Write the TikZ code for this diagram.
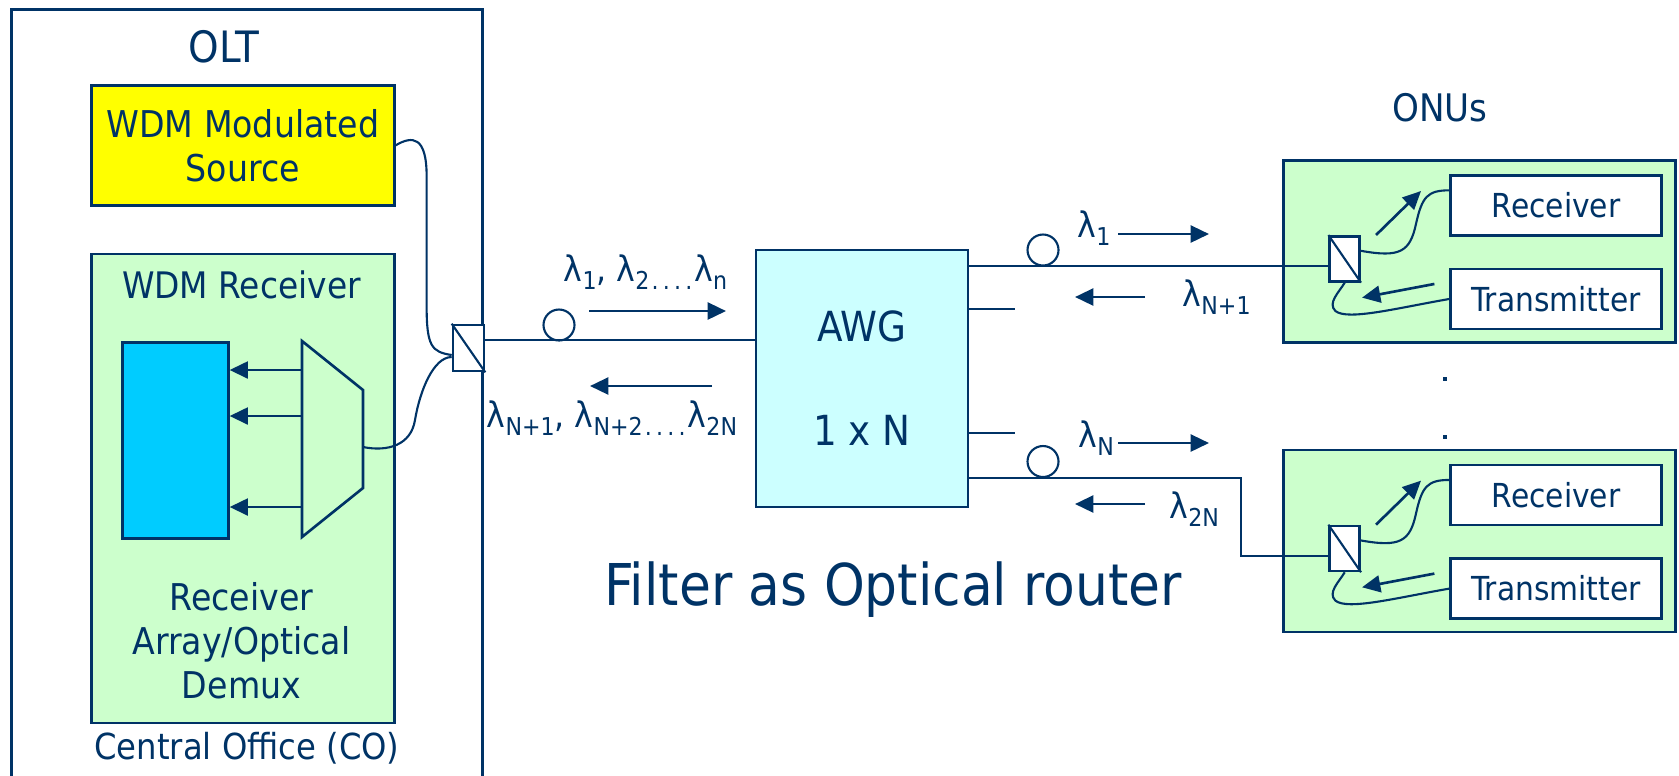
\documentclass[tikz,border=0pt]{standalone}
\usepackage{fontspec}
\setmainfont{DejaVu Sans Condensed}
\usepackage{tikz}
\usepackage{xcolor}
\usetikzlibrary{positioning}
\usetikzlibrary{calc}
\usetikzlibrary{arrows.meta}
\definecolor{ink}{RGB}{0, 51, 102}
\definecolor{mint}{RGB}{204, 255, 204}
\definecolor{ice}{RGB}{204, 255, 255}
\definecolor{sky}{RGB}{0, 204, 255}
\definecolor{lemon}{RGB}{255, 255, 0}
\tikzstyle{blk} = [
	draw=ink,
	line width=0.75pt,
	inner sep=0pt,
	text=ink,
	align=center
]
\tikzstyle{gblk} = [blk, fill=mint]
\tikzstyle{wblk} = [
	blk,
	fill=white,
	minimum width=2.11cm,
	minimum height=0.6cm,
	font=\fontsize{9.4}{11}\selectfont
]
\tikzstyle{fsplit} = [blk, fill=white, minimum width=0.3cm, minimum height=0.45cm]
\tikzstyle{fiber} = [draw=ink, line width=0.6pt]
\tikzstyle{coil} = [
	draw=ink,
	line width=0.6pt,
	circle,
	minimum size=0.31cm,
	inner sep=0pt
]
\tikzstyle{flow} = [draw=ink, line width=0.75pt, -{Triangle[length=5.2pt, width=4.8pt]}]
\tikzstyle{lbl} = [text=ink, inner sep=0pt]
\newcommand{\wl}[1]{λ\raisebox{-0.45ex}{\fontsize{7}{8}\selectfont #1}}
\newcommand{\wdots}{\raisebox{-0.45ex}{\fontsize{7}{8}\selectfont\kern0.6pt.\kern1.2pt.\kern1.2pt.\kern1.2pt.\kern0.6pt}}

\begin{document}
\begin{tikzpicture}[x=0.1mm, y=-0.1mm, node distance=0cm and 0cm]
	\useasboundingbox (0,0) rectangle (1679,775);
	\clip (0,0) rectangle (1679,775);
	
	%
	% Central office
	\node[blk, minimum width=4.71cm, minimum height=8cm, anchor=north west] (olt) at (10,8) {};
	\node[lbl, font=\fontsize{12.3}{14}\selectfont] (oltlbl) at (224,47) {OLT};
	\node[blk, fill=lemon, minimum width=3.03cm, minimum height=1.2cm, anchor=north west, font=\fontsize{10.5}{12.5}\selectfont] (src) at (90,84) {WDM Modulated\\Source};
	\node[gblk, minimum width=3.03cm, minimum height=4.69cm, below=0.46cm of src] (wrx) {};
	\node[lbl, font=\fontsize{10.4}{12}\selectfont] (wrxlbl) at (241.5,285) {WDM Receiver};
	\node[lbl, font=\fontsize{10.5}{12.5}\selectfont, align=center] (demuxlbl) at (241.5,641) {Receiver\\Array/Optical\\Demux};
	\node[lbl, font=\fontsize{10.2}{12}\selectfont] (colbl) at (247,748) {Central Office (CO)};
	\node[blk, fill=sky, minimum width=1.06cm, minimum height=1.96cm, anchor=north west] (arr) at (121,341) {};
	\draw[fiber, line width=0.75pt, fill=mint] (302,341) -- (363,390) -- (363,488) -- (302,537) -- cycle;
	\coordinate (dm1) at (302,370);
	\coordinate (dm2) at (302,416);
	\coordinate (dm3) at (302,507);
	\draw[flow] (dm1) -- (dm1 -| arr.east);
	\draw[flow] (dm2) -- (dm2 -| arr.east);
	\draw[flow] (dm3) -- (dm3 -| arr.east);
	\coordinate (dmx) at (363,447);
	\node[fsplit, minimum width=0.31cm, minimum height=0.46cm] (sp0) at (468.5,348) {};
	\draw[fiber] (src.east) .. controls +(17,-10) and +(0,-40) .. ++(31,31) -- ++(0,130) .. controls +(0,40) and +(-20,-3) .. ($(sp0.west)+(0,7)$);
	\draw[fiber] (dmx) .. controls +(25,5) and +(-4,25) .. ++(52,-27) .. controls +(5,-30) and +(-18,0) .. ($(sp0.west)+(0,9)$);
	\draw[fiber] (sp0.north west) -- (sp0.south east);
	
	%
	% Router
	\node[blk, fill=ice, minimum width=2.12cm, minimum height=2.57cm, font=\fontsize{11.8}{29.6}\selectfont] (awg) at (862,378.5) {AWG\\1 x N};
	\coordinate (trunk) at ($(awg.north west)+(0,91)$);
	\draw[fiber] (trunk -| sp0.east) -- (trunk);
	\node[coil] (c0) at (559,325) {};
	\coordinate (dn0s) at (589,311);
	\coordinate (dn0e) at (726,311);
	\draw[flow] (dn0s) -- (dn0e);
	\coordinate (up0s) at (712,386);
	\coordinate (up0e) at (590,386);
	\draw[flow] (up0s) -- (up0e);
	\node[lbl, anchor=base, font=\fontsize{10}{12}\selectfont] (dnlbl) at (645.5,281) {\wl{1}, \wl{2}\wdots\wl{n}};
	\node[lbl, anchor=base, font=\fontsize{10}{12}\selectfont] (uplbl) at (612,427) {\wl{N+1}, \wl{N+2}\wdots\wl{2N}};
	\node[lbl, font=\fontsize{16.4}{19}\selectfont, anchor=base] (title) at (893,605) {Filter as Optical router};
	
	%
	% Subscriber units
	\node[gblk, minimum width=3.92cm, minimum height=1.82cm, anchor=north east] (onu1) at (1677,159) {};
	\node[wblk, below left=0.15cm and 0.14cm of onu1.north east] (rx1) {Receiver};
	\node[wblk, below=0.31cm of rx1] (tx1) {Transmitter};
	\node[fsplit, right=0.46cm of onu1.west, yshift=-0.075cm] (sp1) {};
	\draw[fiber] (sp1.north west) -- (sp1.south east);
	\draw[flow] ($(sp1.north east)+(15,0)$) -- ($(sp1.north east)+(60,-44)$);
	\draw[fiber] ($(sp1.east)+(0,-8)$) .. controls +(39,7) and +(-6,28) .. ++(55,-27) .. controls +(6,-27) and +(-22,0) .. ($(rx1.west)+(0,-15)$);
	\draw[flow] ($(tx1.west)+(-15,-15)$) -- ($(sp1.south east)+(1,15)$);
	\draw[fiber] (tx1.west) .. controls +(-52,9) and +(12,10) .. ++(-114,12) .. controls +(-8,-8) and +(-6,10) .. (sp1.south);
	
	\node[gblk, minimum width=3.92cm, minimum height=1.82cm, below=1.05cm of onu1] (onu2) {};
	\node[wblk, below left=0.15cm and 0.14cm of onu2.north east] (rx2) {Receiver};
	\node[wblk, below=0.31cm of rx2] (tx2) {Transmitter};
	\node[fsplit, right=0.46cm of onu2.west, yshift=-0.075cm] (sp2) {};
	\draw[fiber] (sp2.north west) -- (sp2.south east);
	\draw[flow] ($(sp2.north east)+(15,0)$) -- ($(sp2.north east)+(60,-44)$);
	\draw[fiber] ($(sp2.east)+(0,-8)$) .. controls +(39,7) and +(-6,28) .. ++(55,-27) .. controls +(6,-27) and +(-22,0) .. ($(rx2.west)+(0,-15)$);
	\draw[flow] ($(tx2.west)+(-15,-15)$) -- ($(sp2.south east)+(1,15)$);
	\draw[fiber] (tx2.west) .. controls +(-52,9) and +(12,10) .. ++(-114,12) .. controls +(-8,-8) and +(-6,10) .. (sp2.south);
	
	\node[lbl, font=\fontsize{10.8}{13}\selectfont] (onulbl) at (1440,108) {ONUs};
	\node[fill=ink, minimum size=1.2pt, inner sep=0pt] (dot1) at (1445,379) {};
	\node[fill=ink, minimum size=1.2pt, inner sep=0pt] (dot2) at (1445,437) {};
	
	%
	% Drop fibres
	\coordinate (in1) at ($(sp1.west)+(0,7.5)$);
	\draw[fiber] (in1 -| awg.east) -- (in1);
	\coordinate (st2) at ($(awg.north east)+(0,60)$);
	\draw[fiber] (st2) -- ++(46,0);
	\coordinate (st3) at ($(awg.south east)+(0,-75)$);
	\draw[fiber] (st3) -- ++(46,0);
	\coordinate (in2) at ($(sp2.west)+(0,7.5)$);
	\coordinate (pN) at ($(awg.south east)+(0,-30)$);
	\draw[fiber] (pN) -- ++(272,0) |- (in2);
	\node[coil] (c1) at (1043,250) {};
	\node[coil] (c2) at (1043,461.5) {};
	
	\node[lbl, anchor=base west, font=\fontsize{10}{12}\selectfont] (l1) at (1077,237) {\wl{1}};
	\node[lbl, anchor=base west, font=\fontsize{10}{12}\selectfont] (lN1) at (1182,306) {\wl{N+1}};
	\node[lbl, anchor=base west, font=\fontsize{10}{12}\selectfont] (lN) at (1078,447) {\wl{N}};
	\node[lbl, anchor=base west, font=\fontsize{10}{12}\selectfont] (l2N) at (1169,518) {\wl{2N}};
	\coordinate (dn1s) at (1118,234);
	\coordinate (dn1e) at (1209,234);
	\draw[flow] (dn1s) -- (dn1e);
	\coordinate (up1s) at (1145,297);
	\coordinate (up1e) at (1075,297);
	\draw[flow] (up1s) -- (up1e);
	\coordinate (dn2s) at (1118,443);
	\coordinate (dn2e) at (1209,443);
	\draw[flow] (dn2s) -- (dn2e);
	\coordinate (up2s) at (1145,504);
	\coordinate (up2e) at (1075,504);
	\draw[flow] (up2s) -- (up2e);
	
\end{tikzpicture}
\end{document}
